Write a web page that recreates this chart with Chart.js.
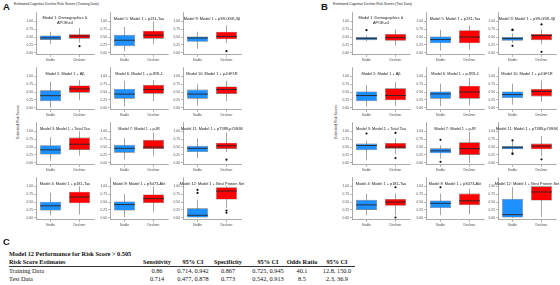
<!DOCTYPE html>
<html><head><meta charset="utf-8">
<script src="https://cdn.jsdelivr.net/npm/chart.js@4.4.1/dist/chart.umd.min.js"></script>
<style>
html,body{margin:0;padding:0;width:560px;height:285px;overflow:hidden;background:#fff;}
#root{position:relative;width:560px;height:285px;overflow:hidden;}
.abs{position:absolute;white-space:nowrap;}
.serif{font-family:"Liberation Serif","Times New Roman",serif;}
</style></head><body>
<div id="root"></div>
<script>
// ---------- DATA ----------
const groups = ['Stable', 'Decliner'];
const yTickValues = [0, 0.25, 0.5, 0.75, 1];
const yTickLabels = ['0.00', '0.25', '0.50', '0.75', '1.00'];

// grid order: row1 M1,M5,M9 / row2 M2,M6,M10 / row3 M3,M7,M11 / row4 M4,M8,M12
const modelTitles = [
  'Model 1: Demographics &\nAPOE-ε4', 'Model 5: Model 1 + p231-Tau', 'Model 9: Model 1 + pS9-GSK-3β',
  'Model 2: Model 1 + Aβ', 'Model 6: Model 1 + p-IRS-1', 'Model 10: Model 1 + p-IGF1R',
  'Model 3: Model 1 + Total Tau', 'Model 7: Model 1 + p-IR', 'Model 11: Model 1 + pT389-p70S6K',
  'Model 4: Model 1 + p181-Tau', 'Model 8: Model 1 + pS473-Akt', 'Model 12: Model 1 + Best Protein Set'
];

// [lower whisker, Q1, median, Q3, upper whisker]
const trainStable = [
  [0.28, 0.41, 0.475, 0.55, 0.67], [0.05, 0.21, 0.40, 0.57, 0.82], [0.13, 0.35, 0.47, 0.52, 0.67],
  [0.00, 0.21, 0.385, 0.555, 0.83], [0.04, 0.29, 0.435, 0.60, 0.86], [0.06, 0.29, 0.435, 0.58, 0.75],
  [0.07, 0.26, 0.41, 0.56, 0.81], [0.10, 0.32, 0.46, 0.57, 0.78], [0.15, 0.34, 0.46, 0.54, 0.78],
  [0.08, 0.23, 0.38, 0.51, 0.80], [0.02, 0.23, 0.42, 0.52, 0.76], [0.00, 0.01, 0.08, 0.30, 0.58]
];
const trainDecliner = [
  [0.33, 0.45, 0.53, 0.59, 0.79], [0.28, 0.45, 0.56, 0.70, 1.00], [0.31, 0.43, 0.52, 0.67, 0.87],
  [0.24, 0.48, 0.60, 0.71, 0.88], [0.21, 0.45, 0.58, 0.73, 0.88], [0.21, 0.44, 0.58, 0.68, 0.86],
  [0.23, 0.41, 0.59, 0.80, 1.00], [0.22, 0.44, 0.50, 0.73, 0.96], [0.34, 0.44, 0.54, 0.64, 0.96],
  [0.10, 0.46, 0.66, 0.83, 1.00], [0.18, 0.47, 0.61, 0.74, 1.00], [0.31, 0.58, 0.85, 0.97, 1.00]
];
const trainStableOut = [[], [], [], [], [], [], [], [], [], [], [], [0.89, 0.79]];
const trainDeclinerOut = [[0.21], [], [0.05], [], [], [], [], [], [0.10], [], [], [0.23, 0.16]];

const testStable = [
  [0.37, 0.40, 0.45, 0.50, 0.55], [0.07, 0.30, 0.42, 0.52, 0.73], [0.32, 0.38, 0.45, 0.50, 0.62],
  [0.03, 0.21, 0.39, 0.52, 0.72], [0.05, 0.29, 0.44, 0.52, 0.77], [0.10, 0.31, 0.42, 0.52, 0.77],
  [0.08, 0.40, 0.55, 0.61, 0.70], [0.13, 0.30, 0.38, 0.46, 0.56], [0.33, 0.43, 0.48, 0.53, 0.68],
  [0.08, 0.25, 0.41, 0.57, 0.77], [0.08, 0.31, 0.46, 0.55, 0.77], [0.00, 0.01, 0.10, 0.60, 0.97]
];
const testDecliner = [
  [0.23, 0.38, 0.48, 0.60, 0.75], [0.10, 0.30, 0.50, 0.72, 0.87], [0.27, 0.40, 0.55, 0.60, 0.75],
  [0.05, 0.24, 0.39, 0.62, 0.82], [0.08, 0.29, 0.50, 0.70, 0.95], [0.20, 0.36, 0.52, 0.60, 0.87],
  [0.28, 0.45, 0.50, 0.63, 0.78], [0.00, 0.25, 0.45, 0.65, 0.98], [0.21, 0.43, 0.53, 0.61, 0.85],
  [0.08, 0.38, 0.50, 0.60, 0.77], [0.11, 0.40, 0.54, 0.77, 0.92], [0.03, 0.55, 0.82, 1.00, 1.00]
];
const testStableOut = [[0.72], [], [0.72, 0.74, 0.22], [], [], [], [0.93], [0.73, 0.03], [0.71, 0.28, 0.30], [], [0.97], []];
const testDeclinerOut = [[], [], [0.90, 0.03], [], [], [], [0.95, 0.15], [], [0.11], [0.97, 0.01], [], []];

const tableTitle = 'Model 12 Performance for Risk Score > 0.505';
const tableHeaders = ['Risk Score Estimates', 'Sensitivity', '95% CI', 'Specificity', '95% CI', 'Odds Ratio', '95% CI'];
const trainingRow = ['Training Data', '0.86', '0.714, 0.942', '0.867', '0.725, 0.945', '40.1', '12.8, 150.0'];
const testRow = ['Test Data', '0.714', '0.477, 0.878', '0.773', '0.542, 0.913', '8.5', '2.3, 36.9'];

// ---------- LAYOUT / STYLE ----------
const FONT = '"Liberation Sans", Arial, sans-serif';
const COLORS = ['#1E90FF', '#FF0000'];
const colXA = [36, 110, 183], colXB = [352, 426, 498], rowY1 = [19, 74, 129, 184];
const PW = 58, YW = 13, XH = 9, PH = 45, PADR = 24;
const YMIN = -0.07, YMAX = 1.265;
const root = document.getElementById('root');

function addText(txt, left, top, css, cls) {
  const d = document.createElement('div');
  d.className = 'abs' + (cls ? ' ' + cls : '');
  d.textContent = txt;
  d.style.cssText += `left:${left}px;top:${top}px;` + css;
  root.appendChild(d);
  return d;
}

function boxPlugin(stats, title) {
  return {
    id: 'boxWhisk',
    beforeDatasetsDraw(chart) {
      const meta = chart.getDatasetMeta(0), y = chart.scales.y, ctx = chart.ctx;
      ctx.save();
      ctx.strokeStyle = '#666'; ctx.lineWidth = 0.6;
      meta.data.forEach((bar, i) => {
        const s = stats[i];
        ctx.beginPath();
        ctx.moveTo(bar.x, y.getPixelForValue(s[0]));
        ctx.lineTo(bar.x, y.getPixelForValue(s[4]));
        ctx.stroke();
      });
      ctx.restore();
    },
    afterDatasetsDraw(chart) {
      const meta = chart.getDatasetMeta(0), y = chart.scales.y, ctx = chart.ctx;
      ctx.save();
      ctx.strokeStyle = '#262626'; ctx.lineWidth = 0.9;
      meta.data.forEach((bar, i) => {
        const py = y.getPixelForValue(stats[i][2]), h = bar.width / 2;
        ctx.beginPath(); ctx.moveTo(bar.x - h, py); ctx.lineTo(bar.x + h, py); ctx.stroke();
      });
      const a = chart.chartArea;
      ctx.fillStyle = '#1a1a1a';
      ctx.font = '3.9px ' + FONT;
      ctx.textAlign = 'center'; ctx.textBaseline = 'middle';
      const lines = title.split('\n');
      const cx = (a.left + a.right) / 2;
      if (lines.length === 1) ctx.fillText(lines[0], cx, a.top + 5.8);
      else lines.forEach((l, k) => ctx.fillText(l, cx, a.top + 5 + k * 5));
      ctx.restore();
    }
  };
}

function makeChart(left, top, title, sStats, dStats, sOut, dOut) {
  const c = document.createElement('canvas');
  const W = YW + PW + PADR, H = PH + XH;
  c.width = W; c.height = H;
  c.style.cssText = `position:absolute;left:${left}px;top:${top}px;width:${W}px;height:${H}px`;
  root.appendChild(c);
  const stats = [sStats, dStats];
  const outPts = [...sOut.map(v => ({ x: groups[0], y: v })), ...dOut.map(v => ({ x: groups[1], y: v }))];
  const gridOpt = { display: true, drawOnChartArea: false, drawTicks: true, tickLength: 2, color: '#707070', lineWidth: 0.5, offset: false };
  const borderOpt = { display: true, color: '#707070', width: 0.6 };
  new Chart(c, {
    type: 'bar',
    data: {
      labels: groups,
      datasets: [
        { type: 'bar', data: stats.map(s => [s[1], s[3]]), backgroundColor: COLORS, borderColor: '#666',
          borderWidth: 0.6, borderSkipped: false, barPercentage: 0.72, categoryPercentage: 1, order: 2 },
        { type: 'line', data: outPts, showLine: false, pointRadius: 1.1, pointBackgroundColor: '#111',
          pointBorderWidth: 0, order: 1 }
      ]
    },
    options: {
      responsive: false, animation: false, events: [],
      layout: { autoPadding: false, padding: { left: 0, right: PADR, top: 0, bottom: 0 } },
      plugins: { legend: { display: false }, tooltip: { enabled: false }, title: { display: false } },
      scales: {
        x: { type: 'category', offset: true, grid: gridOpt, border: borderOpt,
             ticks: { font: { size: 3.3, family: FONT }, color: '#4d4d4d', padding: 1, maxRotation: 0, autoSkip: false },
             afterFit: s => { s.height = XH; } },
        y: { type: 'linear', min: YMIN, max: YMAX, grid: gridOpt, border: borderOpt,
             ticks: { font: { size: 3.3, family: FONT }, color: '#4d4d4d', padding: 1,
                      callback: (v, i) => yTickLabels[i] },
             afterBuildTicks: s => { s.ticks = yTickValues.map(v => ({ value: v })); },
             afterFit: s => { s.width = YW; } }
      }
    },
    plugins: [boxPlugin(stats, title)]
  });
}

function panel(colX, sArr, dArr, sOutArr, dOutArr) {
  for (let r = 0; r < 4; r++) for (let k = 0; k < 3; k++) {
    const i = r * 3 + k;
    makeChart(colX[k] - YW, rowY1[r] - 9, modelTitles[i], sArr[i], dArr[i], sOutArr[i], dOutArr[i]);
  }
}

// Panel labels and titles
addText('A', 3, 1, 'font:bold 9.5px ' + FONT + ';color:#111;');
addText('Estimated Cognitive Decline Risk Scores (Training Data)', 14, 2, 'font:3.4px ' + FONT + ';color:#222;');
addText('B', 321, 1, 'font:bold 9.5px ' + FONT + ';color:#111;');
addText('Estimated Cognitive Decline Risk Scores (Test Data)', 333, 2, 'font:3.4px ' + FONT + ';color:#222;');
addText('Estimated Risk Scores', 18, 122, 'font:3.4px ' + FONT + ';color:#222;transform:translate(-50%,-50%) rotate(-90deg);');
addText('Estimated Risk Scores', 336, 122, 'font:3.4px ' + FONT + ';color:#222;transform:translate(-50%,-50%) rotate(-90deg);');

panel(colXA, trainStable, trainDecliner, trainStableOut, trainDeclinerOut);
panel(colXB, testStable, testDecliner, testStableOut, testDeclinerOut);

// ---------- TABLE ----------
addText('C', 3, 236, 'font:bold 9.5px ' + FONT + ';color:#111;');
const tcx = [null, 157, 193, 228, 268, 302, 337];
const TF = 'font-size:6.3px;line-height:8px;color:#111;';
addText(tableTitle, 9, 250, 'font-weight:bold;' + TF, 'serif');
function tableRow(cells, top, bold) {
  cells.forEach((t, j) => {
    const b = bold ? 'font-weight:bold;' : '';
    if (j === 0) addText(t, 9, top, b + TF, 'serif');
    else addText(t, tcx[j] - 30, top, b + TF + 'width:60px;text-align:center;', 'serif');
  });
}
tableRow(tableHeaders, 258, true);
tableRow(trainingRow, 267, false);
tableRow(testRow, 275, false);
const ln = document.createElement('div');
ln.style.cssText = 'position:absolute;left:9px;top:265.5px;width:346px;height:0.8px;background:#333;';
root.appendChild(ln);
</script>
</body></html>
